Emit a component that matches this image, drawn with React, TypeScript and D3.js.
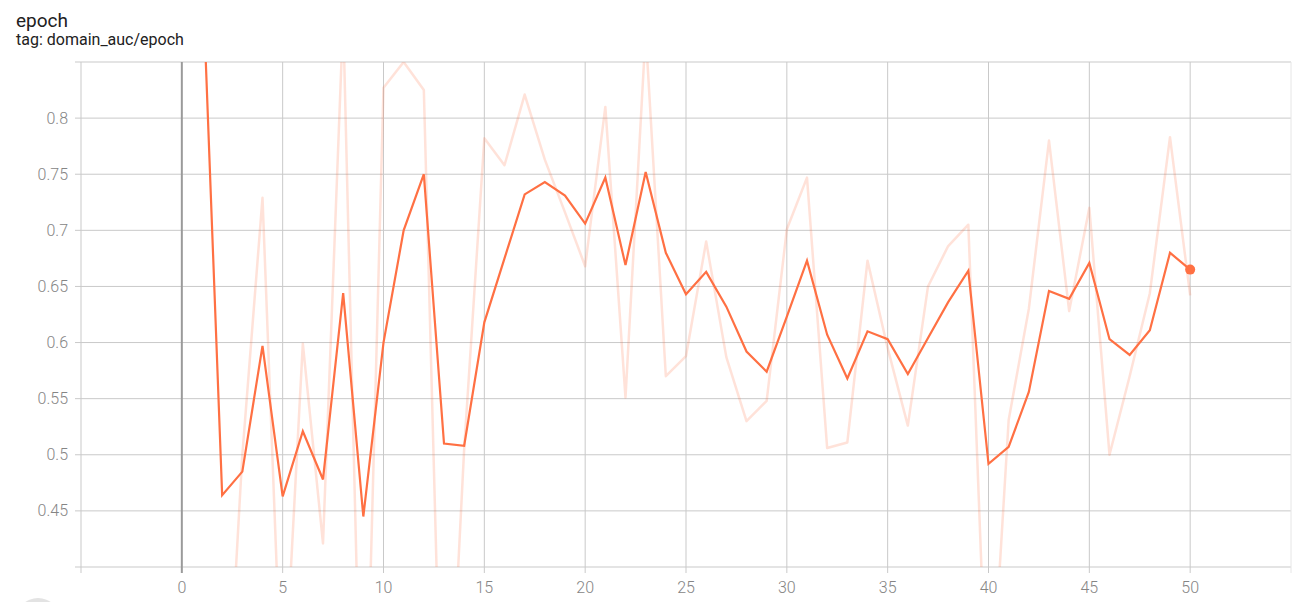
import React from "react";
import * as d3 from "d3";

const epochs = [1,2,3,4,5,6,7,8,9,10,11,12,13,14,15,16,17,18,19,20,21,22,23,24,25,26,27,28,29,30,31,32,33,34,35,36,37,38,39,40,41,42,43,44,45,46,47,48,49,50];
const rawValues: (number | null)[] = [null,0.18,0.50,0.729,0.26,0.599,0.421,0.89,0.15,0.827,0.85,0.825,0.15,0.505,0.782,0.758,0.821,0.763,0.716,0.668,0.810,0.551,0.877,0.570,0.588,0.690,0.587,0.530,0.548,0.701,0.747,0.506,0.511,0.673,0.595,0.526,0.650,0.686,0.705,0.234,0.531,0.630,0.780,0.628,0.720,0.500,0.570,0.644,0.783,0.642];
const smoothedValues = [0.94,0.464,0.485,0.597,0.463,0.521,0.478,0.644,0.445,0.600,0.700,0.750,0.510,0.508,0.618,0.675,0.732,0.743,0.731,0.706,0.747,0.669,0.752,0.680,0.643,0.663,0.632,0.592,0.574,0.623,0.673,0.607,0.568,0.610,0.603,0.572,0.604,0.636,0.664,0.492,0.507,0.556,0.646,0.639,0.671,0.603,0.589,0.611,0.680,0.665];
const xTicks = [-5,0,5,10,15,20,25,30,35,40,45,50,55];
const xLabels = [0,5,10,15,20,25,30,35,40,45,50];
const yTicks = [0.4,0.45,0.5,0.55,0.6,0.65,0.7,0.75,0.8,0.85];
const yLabels = ["0.45","0.5","0.55","0.6","0.65","0.7","0.75","0.8"];

const W = 1300, H = 602;
const left = 81, right = 1291, top = 62, bottom = 567;

export default function App() {
  const x = d3.scaleLinear().domain([-5, 55]).range([left, right]);
  const y = d3.scaleLinear().domain([0.4, 0.85]).range([bottom, top]);
  const line = d3
    .line<number | null>()
    .defined((d) => d !== null)
    .x((_, i) => x(epochs[i]))
    .y((d) => y(d as number));
  const color = "#ff7043";
  const font = "Roboto, 'Noto Sans', sans-serif";
  const last = epochs.length - 1;
  return (
    <svg width={W} height={H} style={{ position: "absolute", left: 0, top: 0, background: "#fff" }}>
      <defs>
        <clipPath id="plot">
          <rect x={left} y={top} width={right - left} height={bottom - top} />
        </clipPath>
      </defs>
      <text x={16} y={27} fontFamily={font} fontSize={19} fill="#212121">epoch</text>
      <text x={16} y={45} fontFamily={font} fontSize={16} fill="#212121">tag: domain_auc/epoch</text>
      {yTicks.map((t) => (
        <line key={"gy" + t} x1={left - 6} x2={right} y1={y(t)} y2={y(t)} stroke="#c9c9c9" strokeWidth={1} />
      ))}
      {xTicks.map((t) => (
        <line key={"gx" + t} x1={x(t)} x2={x(t)} y1={top} y2={bottom + 6}
          stroke={t === 0 ? "#9a9a9a" : t === 55 ? "#e6e6e6" : "#c9c9c9"} strokeWidth={t === 0 ? 2 : 1} />
      ))}
      {yLabels.map((l) => (
        <text key={"yl" + l} x={68} y={y(+l)} dy="0.35em" textAnchor="end" fontFamily={font} fontWeight={300} fontSize={16} fill="#858585">{l}</text>
      ))}
      {xLabels.map((l) => (
        <text key={"xl" + l} x={x(l)} y={593} textAnchor="middle" fontFamily={font} fontWeight={300} fontSize={16} fill="#858585">{l}</text>
      ))}
      <g clipPath="url(#plot)">
        <path d={line(rawValues) || ""} fill="none" stroke={color} strokeOpacity={0.2} strokeWidth={2.5} strokeLinejoin="round" />
        <path d={line(smoothedValues) || ""} fill="none" stroke={color} strokeWidth={2.2} strokeLinejoin="miter" />
      </g>
      <circle cx={x(epochs[last])} cy={y(smoothedValues[last])} r={5} fill={color} />
      <circle cx={38} cy={620} r={22} fill="#e3e3e3" />
    </svg>
  );
}
